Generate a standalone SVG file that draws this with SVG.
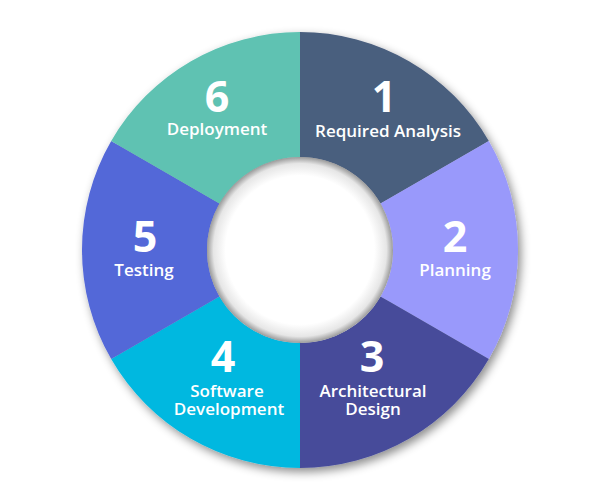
<svg xmlns="http://www.w3.org/2000/svg" width="600" height="500" viewBox="0 0 600 500">
  <style>
    .num { font-family: "Open Sans", "Liberation Sans", sans-serif; font-weight: 700; font-size: 43px; fill: #ffffff; text-anchor: middle; }
    .lbl { font-family: "Open Sans", "Liberation Sans", sans-serif; font-weight: 600; font-size: 17px; fill: #ffffff; text-anchor: middle; }
  </style>
  <defs>
    <filter id="shadow" x="-20%" y="-20%" width="140%" height="140%">
      <feDropShadow dx="3" dy="4" stdDeviation="5" flood-color="#000" flood-opacity="0.45"/>
    </filter>
    <radialGradient id="hole" cx="50%" cy="50%" r="50%">
      <stop offset="0.8" stop-color="#ffffff"/>
      <stop offset="0.93" stop-color="#e6e6e6"/>
      <stop offset="1" stop-color="#9a9a9a"/>
    </radialGradient>
  </defs>
  <rect width="600" height="500" fill="#ffffff"/>
  <g filter="url(#shadow)">
    <g id="node1">
      <path d="M300,32 A218,218 0 0 1 488.8,141 L380.54,203.5 A93,93 0 0 0 300,157 Z" fill="#4a5e7e"/>
    </g>
    <g id="node2">
      <path d="M488.8,141 A218,218 0 0 1 488.8,359 L380.54,296.5 A93,93 0 0 0 380.54,203.5 Z" fill="#9999fb"/>
    </g>
    <g id="node3">
      <path d="M488.8,359 A218,218 0 0 1 300,468 L300,343 A93,93 0 0 0 380.54,296.5 Z" fill="#464c9a"/>
    </g>
    <g id="node4">
      <path d="M300,468 A218,218 0 0 1 111.2,359 L219.46,296.5 A93,93 0 0 0 300,343 Z" fill="#00b8e0"/>
    </g>
    <g id="node5">
      <path d="M111.2,359 A218,218 0 0 1 111.2,141 L219.46,203.5 A93,93 0 0 0 219.46,296.5 Z" fill="#5367d8"/>
    </g>
    <g id="node6">
      <path d="M111.2,141 A218,218 0 0 1 300,32 L300,157 A93,93 0 0 0 219.46,203.5 Z" fill="#5ec2b2"/>
    </g>
  </g>
  <circle cx="300" cy="250" r="93" fill="url(#hole)"/>
  <g id="labels">
    <g id="label1">
      <text class="num" x="384" y="112">1</text>
      <text class="lbl" x="388" y="137">Required Analysis</text>
    </g>
    <g id="label2">
      <text class="num" x="455" y="252">2</text>
      <text class="lbl" x="455" y="276">Planning</text>
    </g>
    <g id="label3">
      <text class="num" x="372" y="372">3</text>
      <text class="lbl" x="373" y="397">Architectural</text>
      <text class="lbl" x="373" y="415">Design</text>
    </g>
    <g id="label4">
      <text class="num" x="223" y="372">4</text>
      <text class="lbl" x="227" y="397">Software</text>
      <text class="lbl" x="229" y="415">Development</text>
    </g>
    <g id="label5">
      <text class="num" x="145" y="252">5</text>
      <text class="lbl" x="144" y="276">Testing</text>
    </g>
    <g id="label6">
      <text class="num" x="217" y="112">6</text>
      <text class="lbl" x="217" y="135">Deployment</text>
    </g>
  </g>
</svg>
